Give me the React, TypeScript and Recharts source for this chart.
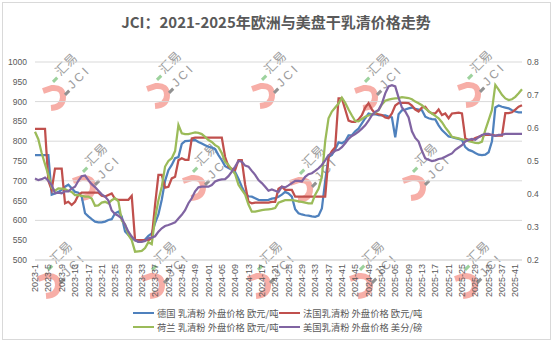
import React from 'react';
import { LineChart, Line, XAxis, YAxis, CartesianGrid } from 'recharts';

// Week categories: 2023-1 … 2023-52, 2024-01 … 2024-52, 2025-01 … 2025-43
const pad2 = (n: number) => (n < 10 ? '0' + n : '' + n);
const weeks: string[] = [];
for (let w = 1; w <= 52; w++) weeks.push('2023-' + w);
for (let w = 1; w <= 52; w++) weeks.push('2024-' + pad2(w));
for (let w = 1; w <= 43; w++) weeks.push('2025-' + pad2(w));

// 德国 乳清粉 外盘价格 欧元/吨
const germany = [
  765, 765, 765, 765, 765, 665, 668, 672, 677, 685,
  690, 681, 672, 670, 660, 618, 610, 603, 597, 595,
  595, 597, 601, 603, 618, 622, 610, 572, 563, 555,
  550, 546, 548, 552, 561, 567, 593, 615, 652, 700,
  727, 740, 757, 760, 793, 800, 801, 802, 803, 798,
  794, 790, 786, 784, 780, 765, 752, 737, 732, 728,
  722, 705, 685, 668, 661, 660, 656, 652, 651, 651,
  652, 655, 656, 660, 665, 672, 668, 660, 628, 618,
  615, 613, 612, 610, 609, 612, 630, 700, 760, 765,
  780, 797, 795, 800, 815, 815, 825, 832, 845, 858,
  870, 868, 868, 866, 865, 865, 862, 860, 810, 868,
  878, 880, 883, 885, 882, 880, 878, 862, 858, 856,
  855, 840, 828, 820, 812, 810, 808, 806, 803, 785,
  778, 775, 770, 766, 765, 766, 772, 800, 885, 890,
  887, 885, 883, 878, 875, 873, 873,
];

// 法国乳清粉 外盘价格 欧元/吨
const france = [
  831, 831, 831, 831, 700, 677, 731, 731, 731, 643,
  647, 639, 647, 664, 670, 670, 670, 670, 670, 670,
  662, 660, 664, 668, 654, 652, 652, 652, 652, 662,
  550, 550, 550, 550, 550, 555, 640, 715, 715, 683,
  685, 706, 710, 752, 757, 753, 753, 807, 809, 809,
  809, 809, 809, 809, 809, 809, 809, 760, 736, 730,
  727, 752, 752, 690, 647, 643, 645, 645, 645, 645,
  645, 647, 647, 680, 685, 677, 677, 677, 660, 660,
  660, 660, 660, 660, 660, 660, 660, 660, 760, 775,
  785, 908, 908, 880, 852, 849, 849, 855, 866, 885,
  896, 880, 870, 868, 866, 860, 858, 870, 890, 896,
  897, 897, 896, 890, 880, 875, 885, 887, 875, 870,
  870, 880, 866, 870, 858, 870, 871, 872, 870, 807,
  803, 803, 808, 811, 814, 816, 816, 816, 814, 814,
  814, 871, 871, 873, 880, 887, 891,
];

// 荷兰 乳清粉 外盘价格 欧元/吨
const netherlands = [
  824, 805, 770, 742, 715, 683, 675, 681, 680, 679,
  675, 672, 664, 664, 662, 660, 660, 655, 637, 638,
  645, 647, 643, 651, 656, 648, 600, 590, 563, 550,
  521, 522, 523, 530, 545, 540, 605, 651, 685, 736,
  750, 757, 775, 841, 820, 818, 818, 820, 822, 821,
  818, 811, 803, 798, 790, 785, 770, 748, 740, 728,
  717, 690, 677, 665, 640, 622, 622, 624, 626, 627,
  628, 629, 631, 645, 648, 651, 651, 651, 650, 648,
  647, 645, 643, 643, 665, 680, 710, 800, 858, 875,
  885, 895, 910, 897, 880, 865, 851, 850, 856, 862,
  865, 868, 872, 878, 893, 902, 905, 907, 908, 909,
  911, 910, 909, 906, 900, 896, 891, 883, 876, 870,
  864, 858, 848, 835, 824, 811, 809, 807, 805, 803,
  800, 798, 796, 795, 799, 828, 853, 879, 942, 930,
  917, 908, 904, 906, 912, 921, 931,
];

// 美国乳清粉 外盘价格 美分/磅 (right axis)
const usa = [
  0.447, 0.442, 0.445, 0.45, 0.44, 0.427, 0.402, 0.404, 0.402, 0.408,
  0.408, 0.417, 0.422, 0.44, 0.454, 0.456, 0.442, 0.43, 0.421, 0.41,
  0.399, 0.392, 0.38, 0.35, 0.339, 0.334, 0.326, 0.307, 0.286, 0.271,
  0.26, 0.255, 0.255, 0.258, 0.266, 0.268, 0.272, 0.286, 0.296, 0.303,
  0.306, 0.31, 0.314, 0.326, 0.337, 0.351, 0.372, 0.387, 0.408, 0.42,
  0.422, 0.422, 0.422, 0.427, 0.438, 0.442, 0.444, 0.445, 0.454, 0.468,
  0.483, 0.5, 0.498, 0.486, 0.483, 0.47, 0.458, 0.442, 0.433, 0.422,
  0.41, 0.414, 0.41, 0.406, 0.422, 0.42, 0.426, 0.433, 0.44, 0.44,
  0.438, 0.452, 0.46, 0.463, 0.47, 0.478, 0.488, 0.502, 0.518, 0.523,
  0.531, 0.534, 0.542, 0.554, 0.567, 0.576, 0.582, 0.589, 0.598, 0.608,
  0.622, 0.639, 0.649, 0.655, 0.674, 0.705, 0.726, 0.73, 0.726, 0.692,
  0.662, 0.65, 0.632, 0.59, 0.57, 0.559, 0.531, 0.508, 0.504, 0.5,
  0.502, 0.506, 0.508, 0.513, 0.518, 0.523, 0.534, 0.541, 0.548, 0.559,
  0.564, 0.567, 0.564, 0.572, 0.579, 0.582, 0.582, 0.578, 0.576, 0.579,
  0.58, 0.582, 0.582, 0.582, 0.582, 0.582, 0.582,
];

const leftTicks = [500, 550, 600, 650, 700, 750, 800, 850, 900, 950, 1000];
const rightTicks = [0.2, 0.3, 0.4, 0.5, 0.6, 0.7, 0.8];

const seriesNames = {
  de: '德国 乳清粉 外盘价格 欧元/吨',
  fr: '法国乳清粉 外盘价格 欧元/吨',
  nl: '荷兰 乳清粉 外盘价格 欧元/吨',
  us: '美国乳清粉 外盘价格 美分/磅',
};
const colors = { de: '#4F81BD', fr: '#C0504D', nl: '#9BBB59', us: '#8064A2' };

const data = weeks.map((w, i) => ({
  week: w,
  de: germany[i],
  fr: france[i],
  nl: netherlands[i],
  us: usa[i],
}));

const TEXT = '#595959';
const NUM_FONT = '"Liberation Sans", Arial, sans-serif';
const CJK_FONT = '"Noto Sans CJK SC", "Noto Sans", sans-serif';

// watermark anchor points (decorative "汇易 JCI" logos)
const watermarkSpots: [number, number][] = [
  [43, 85], [147, 83], [252, 83], [355, 85], [458, 82],
  [73, 175], [183, 175], [290, 177], [403, 175],
  [38, 273], [142, 273], [248, 273], [350, 273], [455, 273],
];

const Watermark = ({ x, y }: { x: number; y: number }) => (
  <g transform={`translate(${x}, ${y})`} opacity={0.85}>
    <path
      d="M0,6 L9,3 Q20,2 20,12 Q20,22 8,23"
      fill="none"
      stroke="#F6A098"
      strokeWidth={6}
    />
    <g transform="translate(16, -7) rotate(-45)">
      <rect x={-7} y={-3} width={6} height={3} fill="#8CCB8C" />
      <text x={2} y={0} fontSize={12.5} fontFamily={CJK_FONT} fill="#8C8C8C">
        汇易
      </text>
    </g>
    <g transform="translate(28, 6) rotate(-45)">
      <rect x={-7} y={-3} width={6} height={3} fill="#7F7F7F" />
      <text x={2} y={0} fontSize={12} fontFamily={NUM_FONT} letterSpacing={3} fill="#8C8C8C">
        JCI
      </text>
    </g>
  </g>
);

const XTick = (props: any) => {
  const { x, y, payload } = props;
  return (
    <text
      x={x}
      y={y}
      transform={`rotate(-90, ${x}, ${y})`}
      textAnchor="end"
      dy="0.35em"
      fontSize={9}
      fontFamily={NUM_FONT}
      fill={TEXT}
    >
      {payload.value}
    </text>
  );
};

const legendItems = [
  { key: 'de', left: 133, top: 306 },
  { key: 'fr', left: 279, top: 306 },
  { key: 'nl', left: 133, top: 320 },
  { key: 'us', left: 279, top: 320 },
] as const;

export default function App() {
  return (
    <div style={{ position: 'absolute', left: 0, top: 0, width: 554, height: 346, background: '#fff' }}>
      <div
        style={{
          position: 'absolute',
          left: 2,
          top: 2,
          width: 547,
          height: 336,
          border: '1px solid #d9d9d9',
        }}
      />
      <svg width={554} height={346} style={{ position: 'absolute', left: 0, top: 0 }}>
        {watermarkSpots.map(([wx, wy], i) => (
          <Watermark key={i} x={wx} y={wy} />
        ))}
      </svg>
      <div
        style={{
          position: 'absolute',
          left: 0,
          top: 11,
          width: 552,
          textAlign: 'center',
          fontFamily: CJK_FONT,
          fontWeight: 'bold',
          fontSize: 15,
          color: TEXT,
          lineHeight: '22px',
        }}
      >
        JCI：2021-2025年欧洲与美盘干乳清价格走势
      </div>
      <div style={{ position: 'absolute', left: 0, top: 0 }}>
        <LineChart
          width={554}
          height={346}
          data={data}
          margin={{ top: 62, right: 2, bottom: 46, left: 8 }}
        >
          <CartesianGrid yAxisId="left" horizontal vertical={false} stroke="#d9d9d9" />
          <XAxis
            dataKey="week"
            interval={3}
            tick={<XTick />}
            tickLine={false}
            tickSize={4}
            tickMargin={0}
            height={40}
            axisLine={{ stroke: '#d9d9d9' }}
          />
          <YAxis
            yAxisId="left"
            orientation="left"
            domain={[500, 1000]}
            ticks={leftTicks}
            width={27}
            axisLine={false}
            tickLine={false}
            tick={{ fontSize: 8.5, fill: TEXT, fontFamily: NUM_FONT }}
          />
          <YAxis
            yAxisId="right"
            orientation="right"
            domain={[0.2, 0.8]}
            ticks={rightTicks}
            width={30}
            axisLine={false}
            tickLine={false}
            tickSize={3}
            tickFormatter={(v: number) => v.toFixed(1)}
            tick={{ fontSize: 8.5, fill: TEXT, fontFamily: NUM_FONT, textAnchor: 'start' }}
          />
          <Line yAxisId="left" dataKey="de" name={seriesNames.de} stroke={colors.de} strokeWidth={2.25} dot={false} isAnimationActive={false} />
          <Line yAxisId="left" dataKey="fr" name={seriesNames.fr} stroke={colors.fr} strokeWidth={2.25} dot={false} isAnimationActive={false} />
          <Line yAxisId="left" dataKey="nl" name={seriesNames.nl} stroke={colors.nl} strokeWidth={2.25} dot={false} isAnimationActive={false} />
          <Line yAxisId="right" dataKey="us" name={seriesNames.us} stroke={colors.us} strokeWidth={2.25} dot={false} isAnimationActive={false} />
        </LineChart>
      </div>
      {legendItems.map((it) => (
        <div
          key={it.key}
          style={{
            position: 'absolute',
            left: it.left,
            top: it.top,
            height: 14,
            display: 'flex',
            alignItems: 'center',
            whiteSpace: 'nowrap',
          }}
        >
          <span style={{ display: 'inline-block', width: 21, height: 2.25, background: colors[it.key] }} />
          <span
            style={{
              marginLeft: 3,
              fontFamily: CJK_FONT,
              fontSize: 9.3,
              color: TEXT,
              lineHeight: '14px',
            }}
          >
            {seriesNames[it.key]}
          </span>
        </div>
      ))}
    </div>
  );
}
